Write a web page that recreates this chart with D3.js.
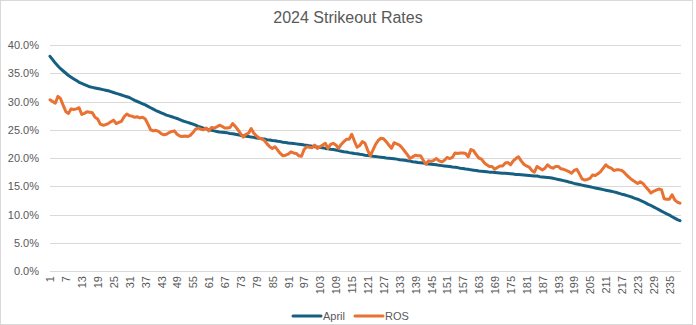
<!DOCTYPE html>
<html><head><meta charset="utf-8">
<script src="https://cdn.jsdelivr.net/npm/d3@7"></script>
<style>
html,body{margin:0;padding:0;background:#fff;}
svg{display:block;font-family:"Liberation Sans",Arial,sans-serif;}
</style></head>
<body><svg id="c" width="696" height="325"></svg>
<script>
const title = "2024 Strikeout Rates";
const seriesNames = ["April", "ROS"];
const yTicks = [0, 5, 10, 15, 20, 25, 30, 35, 40];
const april = [
38.0,37.4,36.8,36.3,35.8,35.4,35.0,34.6,34.3,34.0,33.7,33.4,33.2,33.0,32.8,32.6,32.5,32.4,32.3,32.2,
32.1,32.0,31.9,31.75,31.6,31.45,31.3,31.15,31.0,30.85,30.7,30.45,30.2,30.0,29.8,29.6,29.4,29.15,28.9,28.65,
28.4,28.2,28.0,27.8,27.6,27.45,27.3,27.15,27.0,26.8,26.6,26.45,26.3,26.15,26.0,25.8,25.6,25.45,25.3,25.15,
25.0,24.9,24.8,24.7,24.6,24.55,24.5,24.45,24.35,24.3,24.2,24.1,24.0,23.95,23.85,23.8,23.7,23.65,23.55,23.5,
23.4,23.35,23.25,23.2,23.1,23.05,22.95,22.9,22.8,22.75,22.65,22.6,22.55,22.5,22.45,22.4,22.3,22.25,22.15,22.1,
22.0,21.95,21.85,21.8,21.7,21.65,21.55,21.5,21.4,21.3,21.2,21.1,21.05,20.95,20.9,20.8,20.75,20.65,20.6,20.5,
20.45,20.4,20.3,20.25,20.2,20.15,20.1,20.0,19.95,19.9,19.85,19.8,19.7,19.65,19.6,19.5,19.45,19.35,19.3,19.2,
19.15,19.1,19.0,18.95,18.9,18.85,18.8,18.7,18.65,18.6,18.55,18.5,18.4,18.35,18.3,18.2,18.15,18.05,18.0,17.9,
17.85,17.8,17.7,17.65,17.6,17.55,17.5,17.5,17.45,17.4,17.35,17.3,17.3,17.25,17.2,17.15,17.1,17.1,17.05,17.0,
16.95,16.9,16.85,16.8,16.8,16.7,16.65,16.6,16.55,16.5,16.4,16.3,16.2,16.1,16.0,15.9,15.75,15.65,15.5,15.4,
15.3,15.2,15.1,15.0,14.9,14.8,14.7,14.6,14.5,14.4,14.3,14.2,14.1,14.0,13.9,13.75,13.6,13.5,13.35,13.2,
13.05,12.85,12.7,12.5,12.3,12.05,11.8,11.6,11.35,11.1,10.85,10.6,10.35,10.1,9.9,9.6,9.35,9.1,8.9
];
const ros = [
30.3,30.0,29.7,30.9,30.5,29.3,28.2,27.9,28.7,28.6,28.7,28.9,27.7,27.9,28.2,28.1,28.0,27.2,26.9,26.0,
25.8,25.9,26.1,26.4,26.7,26.1,26.3,26.5,27.3,27.8,27.5,27.4,27.2,27.3,27.1,27.2,26.9,26.0,25.0,24.8,
24.9,24.7,24.3,24.1,24.2,24.5,24.7,24.8,24.2,23.9,23.8,23.9,23.8,24.0,24.5,25.1,25.3,25.1,25.0,25.3,
24.8,25.4,25.3,25.5,25.8,25.6,25.3,25.3,25.4,26.1,25.6,25.0,24.3,23.7,24.2,24.4,25.2,24.4,23.9,23.5,
23.4,23.1,22.5,22.0,21.7,22.0,21.4,20.8,20.4,20.5,20.7,21.1,20.9,20.8,20.4,20.3,21.5,22.0,21.9,21.8,
22.3,21.7,22.0,22.3,22.6,21.7,22.4,22.6,22.3,21.7,22.4,22.9,23.3,23.3,24.2,23.0,21.9,22.2,22.9,22.6,
21.4,20.4,21.4,22.4,23.1,23.5,23.4,22.9,22.3,21.7,22.7,22.5,22.3,21.8,21.2,20.6,19.9,20.2,20.5,20.4,
20.4,19.6,18.9,19.5,19.4,19.6,19.9,19.5,19.3,19.6,20.1,19.9,20.1,20.9,20.8,20.9,20.9,20.8,20.2,21.5,
21.3,20.6,20.0,19.8,19.2,18.8,18.5,18.5,18.0,18.3,18.6,18.6,19.1,19.2,18.8,19.5,19.9,20.2,19.5,18.9,
18.6,18.4,17.8,17.5,18.5,18.2,17.9,18.2,18.8,18.4,18.2,18.5,18.5,18.1,18.0,17.8,17.6,17.3,17.8,18.0,
17.2,16.3,16.1,16.2,16.4,17.0,16.9,17.2,17.6,18.2,18.8,18.4,18.2,17.8,17.9,17.9,17.8,17.4,16.9,16.5,
16.1,15.8,15.5,15.8,15.5,14.9,14.4,13.8,14.1,14.3,14.5,14.4,12.8,12.7,12.7,13.5,12.6,12.2,12.0
];
const categories = d3.range(1, april.length + 1);
const xTickLabels = categories.filter(d => (d - 1) % 6 === 0);

const svg = d3.select("#c");
const colors = {April: "#156082", ROS: "#E97132"};
const gridCol = "#d9d9d9", textCol = "#595959";

// chart border
svg.append("rect").attr("x", 0.5).attr("y", 0.5).attr("width", 692).attr("height", 324)
  .attr("fill", "#fff").attr("stroke", gridCol);

const plotL = 50, plotR = 681, plotT = 45, plotB = 271;
const x = d3.scaleLinear().domain([1, categories.length]).range([plotL, plotR - 1]);
const y = d3.scaleLinear().domain([0, 40]).range([plotB, plotT]);

// title
svg.append("text").attr("x", 348).attr("y", 23).attr("text-anchor", "middle")
  .attr("fill", textCol).style("font-size", "16px").text(title);

// gridlines
svg.append("g").selectAll("line").data(yTicks).join("line")
  .attr("x1", plotL).attr("x2", plotR)
  .attr("y1", d => Math.round(y(d)) + 0.5).attr("y2", d => Math.round(y(d)) + 0.5)
  .attr("stroke", gridCol).attr("stroke-width", 1);

// y axis
const yAxis = svg.append("g").attr("transform", `translate(${plotL - 11},0)`)
  .call(d3.axisLeft(y).tickValues(yTicks).tickSize(0).tickPadding(0).tickFormat(d => d.toFixed(1) + "%"));
yAxis.select(".domain").remove();
yAxis.selectAll("text").attr("fill", textCol).style("font-size", "11px")
  .style("font-family", '"Liberation Sans",Arial,sans-serif');

// x axis
const xAxis = svg.append("g").attr("transform", `translate(0,${plotB + 5})`)
  .call(d3.axisBottom(x).tickValues(xTickLabels).tickSize(0).tickPadding(0).tickFormat(d => String(d)));
xAxis.select(".domain").remove();
xAxis.selectAll("text").attr("fill", textCol).style("font-size", "11px")
  .style("font-family", '"Liberation Sans",Arial,sans-serif')
  .attr("text-anchor", "end").attr("transform", "rotate(-90)")
  .attr("x", 0).attr("y", 0).attr("dy", "0.35em");

// lines
const line = d3.line().x((d, i) => x(categories[i])).y(d => y(d));
[["April", april], ["ROS", ros]].forEach(([name, vals]) => {
  svg.append("path").datum(vals).attr("d", line).attr("fill", "none")
    .attr("stroke", colors[name]).attr("stroke-width", 3)
    .attr("stroke-linejoin", "round").attr("stroke-linecap", "round");
});

// legend
const legend = svg.append("g").attr("transform", "translate(0,316)");
const legPos = [{name: "April", x: 293}, {name: "ROS", x: 355}];
legPos.forEach(p => {
  legend.append("line").attr("x1", p.x).attr("x2", p.x + 28).attr("y1", 0).attr("y2", 0)
    .attr("stroke", colors[p.name]).attr("stroke-width", 3).attr("stroke-linecap", "round");
  legend.append("text").attr("x", p.x + 30).attr("y", 0).attr("dy", "0.35em")
    .attr("fill", textCol).style("font-size", "11px").text(p.name);
});
</script></body></html>
